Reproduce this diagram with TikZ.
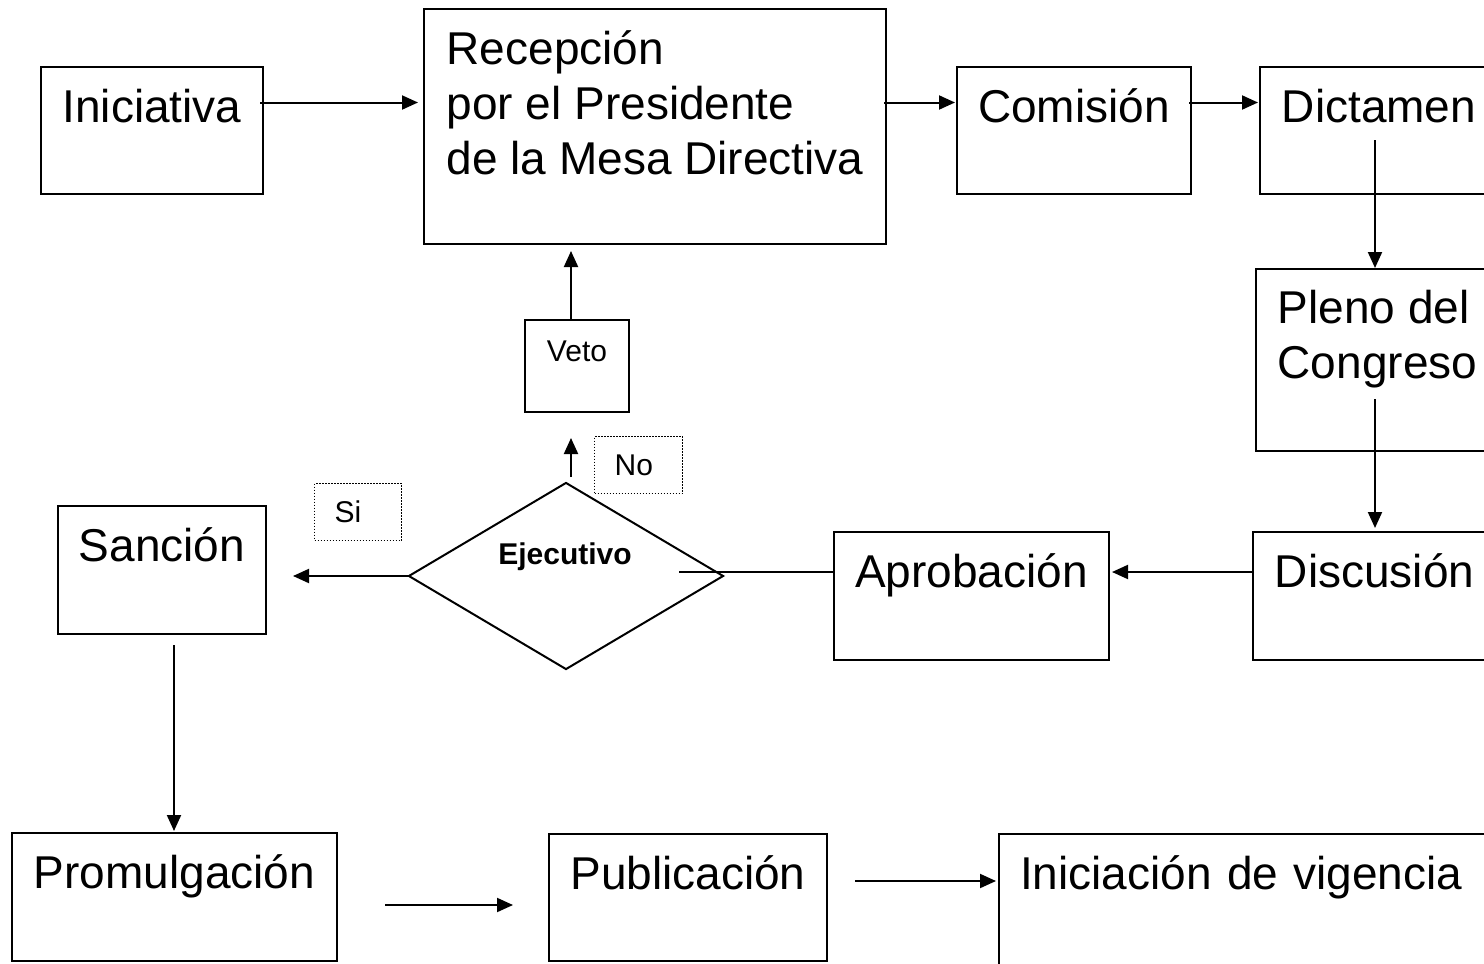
\documentclass[tikz,border=0pt]{standalone}
\usepackage{fontspec}
\setmainfont{Liberation Sans}
\usepackage{tikz}
\usetikzlibrary{arrows.meta, shapes.geometric}

\newcommand{\bigtxt}{\fontsize{46pt}{55pt}\selectfont}
\newcommand{\smalltxt}{\fontsize{30pt}{36pt}\selectfont}

\begin{document}
\begin{tikzpicture}[
        x=1pt, y=-1pt,
        box/.style={draw, line width=2pt, anchor=north west, inner sep=0pt, font=\bigtxt, text height=55pt},
        smallbox/.style={draw, line width=2pt, anchor=north west, inner sep=0pt, font=\smalltxt},
        tag/.style={draw, line width=1.2pt, dash pattern=on 1.5pt off 1.5pt, anchor=north west,
            inner ysep=0pt, inner xsep=20pt, align=left, font=\smalltxt, text height=39pt, text depth=18pt},
        decision/.style={draw, diamond, line width=2pt, inner sep=0pt, minimum width=315pt, minimum height=187pt},
        arr/.style={line width=2pt, -{Triangle[length=16pt, width=14pt]}},
        link/.style={line width=2pt}
    ]
        \useasboundingbox (0,0) rectangle (1484,964);
        \clip (0,0) rectangle (1484,964);

        % Top row
        \node[box, minimum width=222pt, minimum height=127pt, text depth=72pt] (ini) at (40,66) {Iniciativa};
        \node[box, align=left, minimum width=462pt, minimum height=235pt, text height=165pt, text depth=70pt] (rec) at (423,8)
            {Recepción\\por el Presidente\\de la Mesa Directiva};
        \node[box, minimum width=234pt, minimum height=127pt, text depth=72pt] (com) at (956,66) {Comisión};
        \node[box, minimum width=238pt, minimum height=127pt, text depth=72pt] (dic) at (1259,66) {Dictamen};

        % Right column
        \node[box, align=left, minimum width=243pt, minimum height=182pt, text height=109pt, text depth=73pt] (pleno) at (1255,268)
            {Pleno del\\Congreso};
        \node[box, minimum width=243pt, minimum height=128pt, text depth=73pt] (disc) at (1252,531) {Discusión};

        % Middle row
        \node[box, minimum width=275pt, minimum height=128pt, text depth=73pt] (apro) at (833,531) {Aprobación};
        \node[decision] (ejec) at (566,576) {};
        \node[font=\smalltxt\bfseries, anchor=base] (ejeclbl) at (565,564) {Ejecutivo};
        \node[smallbox, minimum width=104pt, minimum height=92pt, text height=41pt, text depth=51pt] (veto) at (524,319) {Veto};
        \node[tag, text width=48pt] (no) at (594,436) {No};
        \node[tag, text width=47pt] (si) at (314,483) {Si};
        \node[box, minimum width=208pt, minimum height=128pt, text depth=73pt] (san) at (57,505) {Sanción};

        % Bottom row
        \node[box, minimum width=325pt, minimum height=128pt, text depth=73pt] (prom) at (11,832) {Promulgación};
        \node[box, minimum width=278pt, minimum height=127pt, text depth=72pt] (pub) at (548,833) {Publicación};
        \node[box, align=left, inner xsep=21pt, text width=450pt, minimum height=140pt, text depth=85pt] (inic) at (998,833)
            {Iniciación de vigencia};

        % Free ends of the connectors
        \coordinate (rowtop) at (0,102.5);
        \coordinate (rowmid) at (0,572);
        \coordinate (dicout) at (1375,140);
        \coordinate (plenoout) at (1375,399);
        \coordinate (ejecin) at (679,572);
        \coordinate (ejecup) at (571,477);
        \coordinate (sanout) at (174,645);
        \coordinate (promout) at (385,905);
        \coordinate (pubin) at (513,905);
        \coordinate (pubout) at (855,881);

        % Connectors
        \draw[arr, shorten <=-4pt, shorten >=5pt] (ini.east |- rowtop) -- (rec.west |- rowtop);
        \draw[arr, shorten <=-3pt, shorten >=1pt] (rec.east |- rowtop) -- (com.west |- rowtop);
        \draw[arr, shorten <=-3pt, shorten >=1pt] (com.east |- rowtop) -- (dic.west |- rowtop);
        \draw[arr] (dicout) -- (dicout |- pleno.north);
        \draw[arr, shorten >=3pt] (plenoout) -- (plenoout |- disc.north);
        \draw[arr, shorten <=-2pt, shorten >=2pt] (disc.west |- rowmid) -- (apro.east |- rowmid);
        \draw[link] (apro.west |- rowmid) -- (ejecin);
        \draw[arr, shorten >=26pt] (ejec.west) -- (san.east |- ejec.west);
        \draw[arr, shorten >=25pt] (ejecup) -- (ejecup |- veto.south);
        \draw[arr, shorten >=6pt] (veto.north -| ejecup) -- (rec.south -| ejecup);
        \draw[arr, shorten >=1pt] (sanout) -- (sanout |- prom.north);
        \draw[arr] (promout) -- (pubin);
        \draw[arr, shorten >=2pt] (pubout) -- (pubout -| inic.west);
\end{tikzpicture}
\end{document}
